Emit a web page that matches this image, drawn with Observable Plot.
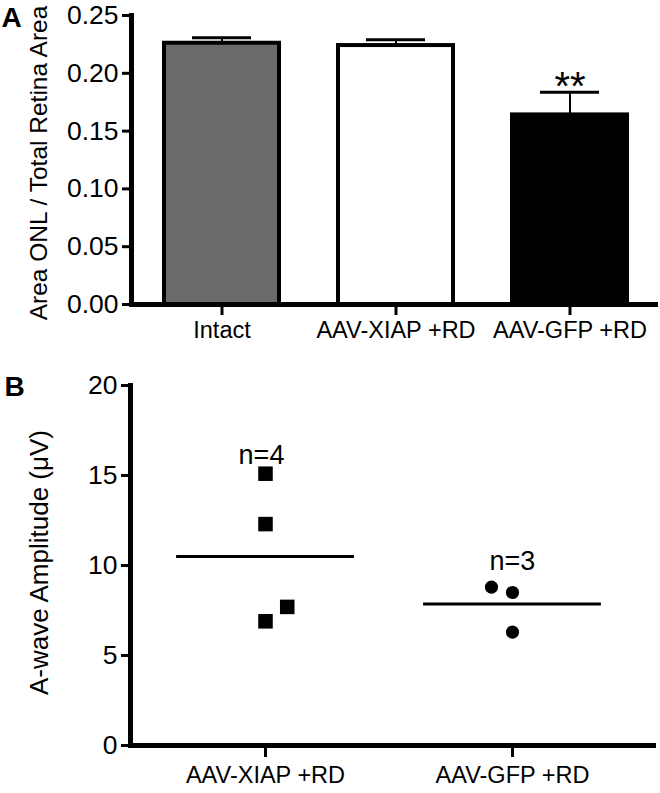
<!DOCTYPE html>
<html><head><meta charset="utf-8">
<script src="https://cdn.jsdelivr.net/npm/d3@7"></script>
<script src="https://cdn.jsdelivr.net/npm/@observablehq/plot@0.6"></script>
<style>
body{margin:0;background:#fff;}
#chart{width:660px;height:793px;position:relative;}
#chart svg{display:block;}
</style></head><body><div id="chart"></div>
<script>
// Panel A data
const categoriesA = ["Intact", "AAV-XIAP +RD", "AAV-GFP +RD"];
const meansA = [0.226, 0.224, 0.164];
const semA = [0.0047, 0.005, 0.0197];
const sigA = ["", "", "**"];
const yTicksA = [0, 0.05, 0.10, 0.15, 0.20, 0.25];
const yLabelA = "Area ONL / Total Retina Area";

// Panel B data
const groupsB = ["AAV-XIAP +RD", "AAV-GFP +RD"];
const xiapValues = [15.1, 12.3, 6.9, 7.7];
const xiapJitter = [0, 0, 0, 0.088];
const gfpValues = [8.8, 8.5, 6.3];
const gfpJitter = [-0.085, 0, 0];
const nLabelsB = ["n=4", "n=3"];
const yTicksB = [0, 5, 10, 15, 20];
const yLabelB = "A-wave Amplitude (\u03BCV)";

const font = "'Liberation Sans', Arial, Helvetica, sans-serif";

const dataA = categoriesA.map((c, i) => ({cat: c, mean: meansA[i], sem: semA[i], sig: sigA[i]}));

const plotA = Plot.plot({
  width: 660, height: 360,
  marginTop: 15, marginBottom: 56, marginLeft: 131, marginRight: 5,
  style: {fontFamily: font, fontSize: "22px", color: "#000", background: "#fff"},
  x: {domain: categoriesA, range: [131, 660], paddingInner: 0.34, paddingOuter: 0.19},
  y: {domain: [0, 0.25]},
  color: {domain: categoriesA, range: ["#6a6a6a", "#ffffff", "#000000"]},
  marks: [
    Plot.ruleX(dataA, {x: "cat", y1: "mean", y2: d => d.mean + d.sem, stroke: "#000", strokeWidth: 2}),
    Plot.tickY(dataA, {x: "cat", y: d => d.mean + d.sem, stroke: "#000", strokeWidth: 3, insetLeft: 28, insetRight: 28}),
    Plot.barY(dataA, {x: "cat", y: "mean", fill: "cat", stroke: "#000", strokeWidth: 4}),
    Plot.text(dataA, {x: "cat", y: d => d.mean + d.sem, text: "sig", fontSize: 40, lineAnchor: "bottom", dy: 8}),
    Plot.axisY({ticks: yTicksA, tickFormat: d3.format(".2f"), tickSize: 9, tickPadding: 4, strokeWidth: 3, fontSize: 26.5, label: null}),
    Plot.axisX({tickSize: 11, tickPadding: 6, strokeWidth: 3, fontSize: 23.5, label: null}),
    Plot.frame({anchor: "left", strokeWidth: 5}),
    Plot.frame({anchor: "bottom", strokeWidth: 5}),
    Plot.text([yLabelA], {frameAnchor: "left", textAnchor: "middle", rotate: -90, dx: -92, dy: 3, fontSize: 24.5, lineAnchor: "middle"}),
    Plot.text(["A"], {frameAnchor: "top-left", dx: -130, dy: -8, fontSize: 28, fontWeight: "bold", textAnchor: "start", lineAnchor: "top"})
  ]
});

const dataB = [
  ...xiapValues.map((v, i) => ({g: 1, v, j: xiapJitter[i]})),
  ...gfpValues.map((v, i) => ({g: 2, v, j: gfpJitter[i]}))
];
const valuesByGroup = [xiapValues, gfpValues];
const statsB = valuesByGroup.map((vals, i) => ({g: i + 1, mean: d3.mean(vals), max: d3.max(vals), n: nLabelsB[i]}));

const plotB = Plot.plot({
  width: 660, height: 433,
  marginTop: 25, marginBottom: 48, marginLeft: 130, marginRight: 7,
  style: {fontFamily: font, fontSize: "22px", color: "#000", background: "#fff"},
  x: {domain: [0.4534, 2.571]},
  y: {domain: [0, 20]},
  marks: [
    Plot.ruleY(statsB, {y: "mean", x1: d => d.g - 0.36, x2: d => d.g + 0.36, stroke: "#000", strokeWidth: 3}),
    Plot.dot(dataB.filter(d => d.g === 1), {x: d => d.g + d.j, y: "v", symbol: "square", r: 8.2, fill: "#000", stroke: "none"}),
    Plot.dot(dataB.filter(d => d.g === 2), {x: d => d.g + d.j, y: "v", symbol: "circle", r: 6.6, fill: "#000", stroke: "none"}),
    Plot.text(statsB.filter(d => d.g === 1), {x: "g", y: "max", text: "n", dy: -18, dx: -4, fontSize: 27, lineAnchor: "middle"}),
    Plot.text(statsB.filter(d => d.g === 2), {x: "g", y: "max", text: "n", dy: -26, fontSize: 27, lineAnchor: "middle"}),
    Plot.axisY({ticks: yTicksB, tickSize: 9, tickPadding: 4, strokeWidth: 3, fontSize: 26.5, label: null}),
    Plot.axisX({ticks: [1, 2], tickFormat: d => groupsB[d - 1], tickSize: 12, tickPadding: 9, strokeWidth: 3, fontSize: 23.5, label: null}),
    Plot.frame({anchor: "left", strokeWidth: 5}),
    Plot.frame({anchor: "bottom", strokeWidth: 5}),
    Plot.text([yLabelB], {frameAnchor: "left", textAnchor: "middle", rotate: -90, dx: -91, dy: -3, fontSize: 26, lineAnchor: "middle"}),
    Plot.text(["B"], {frameAnchor: "top-left", dx: -126, dy: -9, fontSize: 28, fontWeight: "bold", textAnchor: "start", lineAnchor: "top"})
  ]
});

const chart = document.getElementById("chart");
chart.appendChild(plotA);
chart.appendChild(plotB);
</script>
</body></html>
